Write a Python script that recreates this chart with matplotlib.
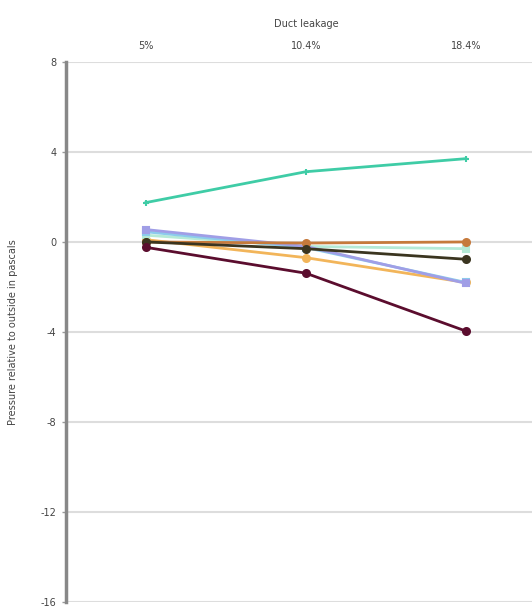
import matplotlib
matplotlib.use("Agg")
import matplotlib.pyplot as plt
import numpy as np

# duct leakage categories
leakage = ["5%", "10.4%", "18.4%"]

# pressure series (pascals)
teal = [1.75, 3.12, 3.70]
lavender = [0.55, -0.20, -1.84]
light_blue = [0.45, -0.25, -1.80]
mint = [0.30, -0.20, -0.30]
dark_olive = [0.00, -0.30, -0.77]
brown_orange = [0.00, -0.05, 0.00]
light_orange = [0.10, -0.70, -1.80]
maroon = [-0.24, -1.39, -3.96]

y_ticks = [8, 4, 0, -4, -8, -12, -16]

series = [
    (light_orange, "#f2b55a", "o"),
    (mint, "#b5ead6", "s"),
    (light_blue, "#8ccbec", "s"),
    (lavender, "#a09ee6", "s"),
    (brown_orange, "#c67a3c", "o"),
    (dark_olive, "#3b3520", "o"),
    (maroon, "#5b0d2e", "o"),
    (teal, "#3fcca6", "+"),
]

fig = plt.figure(figsize=(5.32, 6.11), dpi=100)
ax = fig.add_axes([0.124, 0.0147, 0.902, 0.884])

x = np.arange(len(leakage))
for vals, col, mk in series:
    ax.plot(x, vals, color=col, linewidth=2, marker=mk, markersize=5,
            markeredgewidth=1.5, zorder=3)

ax.set_xlim(-0.5, 2.5)
ax.set_ylim(-16, 8)
ax.set_yticks(y_ticks)
ax.set_yticklabels([str(v) for v in y_ticks])
ax.set_xticks(x)
ax.set_xticklabels(leakage)
ax.xaxis.tick_top()
ax.xaxis.set_label_position("top")
ax.set_xlabel("Duct leakage", fontsize=7, color="#444444", labelpad=10)
ax.set_ylabel("Pressure relative to outside in pascals", fontsize=7,
              color="#444444", labelpad=16)

ax.tick_params(axis="x", length=0, labelsize=7, labelcolor="#444444", pad=8)
ax.tick_params(axis="y", length=3, width=1, color="#999999", labelsize=7,
               labelcolor="#444444", pad=4)

ax.grid(axis="y", color="#dddddd", linewidth=1.5)
ax.set_axisbelow(True)
for side in ["top", "right", "bottom"]:
    ax.spines[side].set_visible(False)
ax.spines["left"].set_color("#888888")
ax.spines["left"].set_linewidth(2.5)

fig.savefig("out.png", dpi=100)
